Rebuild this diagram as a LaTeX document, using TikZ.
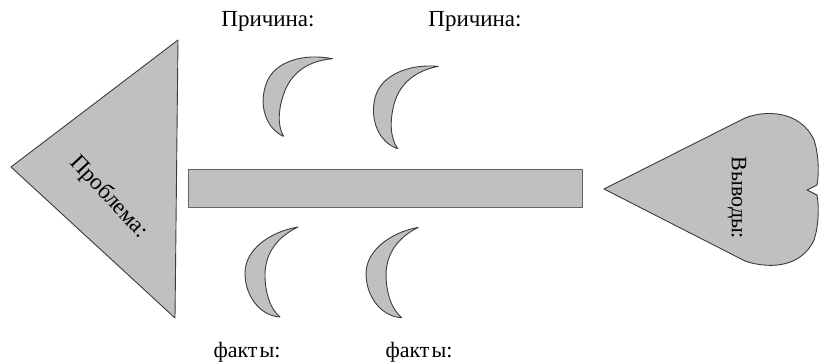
\documentclass[tikz,border=0pt]{standalone}
\usepackage{fontspec}
\setmainfont{Liberation Serif}
\definecolor{shapefill}{HTML}{C0C0C0}
\definecolor{shapeline}{HTML}{3C3C3C}
\tikzset{
  shapestyle/.style={fill=shapefill, draw=shapeline, line width=0.9pt, line join=round},
  lbl/.style={inner sep=0pt, font=\fontsize{23}{26}\selectfont},
  crescent/.pic={
    \draw[shapestyle] (9,45) .. controls (-20,40) and (-44,22) .. (-44,-1)
      .. controls (-44,-25) and (-28,-44) .. (-9,-45)
      .. controls (-20,-36) and (-24,-18) .. (-24,-3)
      .. controls (-24,12) and (-18,32) .. (9,45) -- cycle;
  }
}
\begin{document}
\begin{tikzpicture}[x=1pt,y=1pt]
\useasboundingbox (0,0) rectangle (819,-362);
% problem triangle
\draw[shapestyle] (11,-167) -- (178,-40) -- (175,-318) -- cycle;
\node[lbl, rotate=-47] (problem) at (109,-197) {Проблема:};
% spine
\draw[shapestyle, draw=shapeline!80] (188,-169) rectangle (582,-207);
\node[inner sep=0pt, minimum width=394pt, minimum height=38pt] (spine) at (385,-188) {};
% conclusions heart
\draw[shapestyle] (604,-189) -- (745,-118)
  .. controls (765,-110) and (800,-110) .. (814,-140)
  .. controls (819,-155) and (819,-175) .. (817,-185)
  -- (807,-190) -- (817,-195)
  .. controls (819,-205) and (819,-225) .. (814,-240)
  .. controls (800,-270) and (765,-268) .. (745,-261) -- cycle;
\node[lbl, rotate=-90, font=\fontsize{22}{26}\selectfont] (concl) at (737,-198) {Выводы:};
% crescents
\pic[rotate=-21] (c1) at (308,-97.5) {crescent};
\pic[rotate=-15] (c2) at (418,-107.5) {crescent};
\pic (c3) at (289,-272) {crescent};
\pic[rotate=1] (c4) at (410,-272.5) {crescent};
% labels
\node[lbl] (cause1) at (268,-21) {Причина:};
\node[lbl] (cause2) at (475,-21) {Причина:};
\node[lbl, font=\fontsize{22}{26}\selectfont] (fact1) at (247,-352) {факт\kern2ptы:};
\node[lbl, font=\fontsize{22}{26}\selectfont] (fact2) at (419,-352) {факт\kern2ptы:};
\end{tikzpicture}
\end{document}
